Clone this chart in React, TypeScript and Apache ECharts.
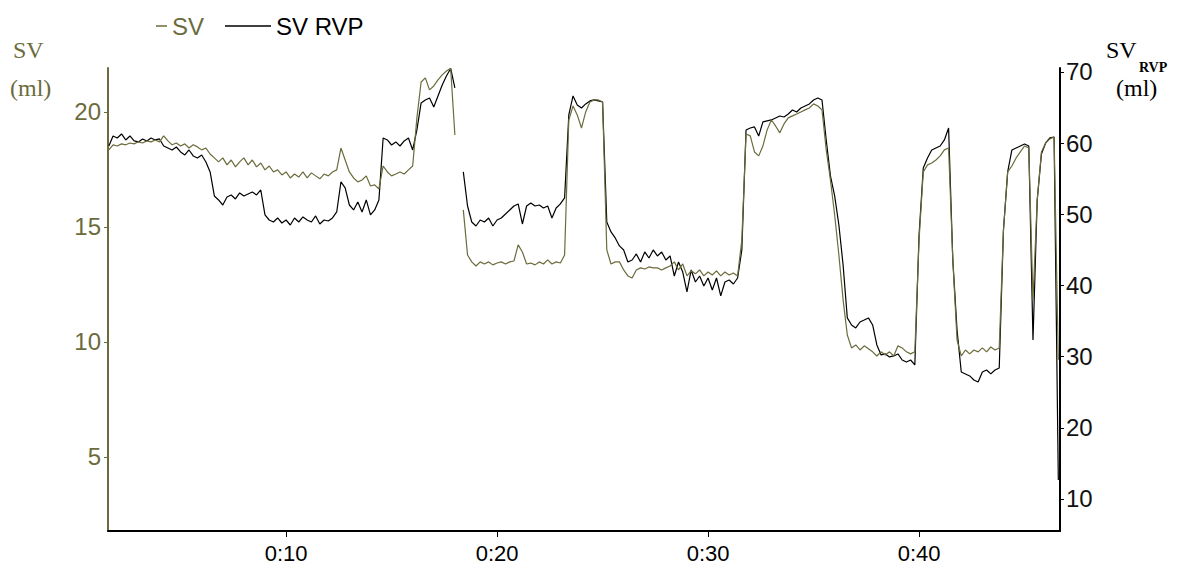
import React, { useEffect, useRef } from "react";
import * as echarts from "echarts";

// Sampling grid (seconds) of the recorded traces
const T_START = 1.6;
const T_STEP = 0.2;

// SV (ml) – left axis
const svValues: (number | null)[] = [
  18.35, 18.57, 18.52, 18.61, 18.57, 18.65, 18.61, 18.70, 18.65, 18.74,
  18.70, 18.78, 18.70, 18.96, 18.74, 18.57, 18.65, 18.52, 18.61, 18.43,
  18.57, 18.48, 18.35, 18.43, 18.17, 18.00, 17.83, 18.00, 17.70, 17.91,
  17.61, 17.83, 18.00, 17.70, 17.91, 17.61, 17.78, 17.48, 17.65, 17.39,
  17.48, 17.26, 17.39, 17.13, 17.30, 17.17, 17.39, 17.13, 17.35, 17.22,
  17.09, 17.30, 17.22, 17.39, 17.48, 18.43, 17.91, 17.39, 17.13, 16.96,
  17.04, 17.22, 16.78, 16.83, 16.65, 17.65, 17.39, 17.22, 17.30, 17.39,
  17.30, 17.48, 17.65, 19.74, 21.30, 21.48, 20.96, 21.13, 21.39, 21.61,
  21.78, 21.90, 19.00, null, 15.74, 13.78, 13.48, 13.30, 13.48, 13.39,
  13.48, 13.35, 13.43, 13.48, 13.39, 13.48, 13.52, 14.22, 13.91, 13.39,
  13.43, 13.35, 13.48, 13.39, 13.57, 13.39, 13.48, 13.43, 13.78, 19.65,
  20.26, 19.87, 19.30, 20.00, 20.43, 20.52, 20.52, 20.43, 14.00, 13.39,
  13.48, 13.48, 13.13, 12.87, 12.78, 13.13, 13.22, 13.17, 13.26, 13.22,
  13.22, 13.13, 13.22, 13.30, 13.48, 13.13, 13.39, 12.87, 13.09, 12.96,
  13.13, 12.87, 13.04, 12.91, 13.09, 12.87, 13.04, 12.91, 13.00, 12.87,
  14.43, 19.04, 18.96, 18.26, 18.09, 18.52, 19.22, 19.65, 19.39, 19.09,
  19.48, 19.74, 19.83, 19.91, 20.00, 20.09, 20.17, 20.35, 20.26, 20.09,
  18.35, 17.04, 15.52, 13.78, 11.83, 10.30, 9.74, 9.87, 9.65, 9.83,
  9.70, 9.57, 9.39, 9.57, 9.43, 9.57, 9.39, 9.83, 9.74, 9.57,
  9.48, 9.57, 14.43, 17.39, 17.70, 17.78, 17.91, 18.09, 18.35, 18.43,
  13.57, 10.09, 9.39, 9.65, 9.48, 9.65, 9.57, 9.74, 9.57, 9.78,
  9.65, 9.74, 14.87, 17.39, 17.65, 18.00, 18.26, 18.52, 18.43, 11.83,
  16.17, 18.26, 18.65, 18.83, 18.91, 9.22,
];

// SV RVP (ml) – right axis
const svRvpValues: (number | null)[] = [
  59.60, 61.01, 60.73, 61.29, 60.45, 61.01, 60.31, 60.17, 60.59, 60.31,
  60.73, 60.45, 60.59, 59.60, 59.32, 59.04, 59.46, 58.76, 58.34, 59.04,
  58.20, 57.92, 58.34, 57.36, 55.96, 52.58, 52.02, 51.31, 52.44, 52.72,
  52.16, 53.00, 52.58, 52.86, 53.14, 52.72, 53.42, 49.91, 49.20, 48.92,
  49.49, 48.78, 49.20, 48.50, 49.49, 48.92, 49.63, 49.20, 48.92, 49.77,
  48.64, 49.20, 49.06, 49.49, 50.33, 54.56, 53.72, 51.31, 50.61, 51.74,
  50.33, 52.02, 49.91, 50.61, 52.02, 60.73, 60.45, 59.74, 60.17, 59.60,
  60.31, 60.73, 59.04, 61.85, 65.65, 66.07, 66.35, 65.08, 66.63, 68.17,
  69.44, 70.50, 67.75, null, 55.96, 51.17, 48.92, 48.36, 49.20, 48.92,
  49.49, 48.36, 49.20, 49.49, 50.05, 50.61, 51.17, 51.46, 48.64, 51.17,
  51.60, 51.17, 51.31, 50.89, 51.17, 49.49, 50.89, 51.46, 52.30, 63.96,
  66.63, 65.37, 64.94, 65.51, 65.93, 66.07, 65.93, 65.79, 48.92, 47.52,
  46.68, 45.56, 44.99, 43.30, 43.58, 44.43, 43.30, 44.71, 43.86, 44.99,
  44.15, 44.71, 43.58, 44.15, 41.33, 43.30, 41.89, 39.09, 42.18, 40.49,
  41.33, 39.93, 41.05, 39.37, 41.05, 38.53, 40.49, 40.77, 40.21, 41.05,
  44.99, 61.85, 62.13, 62.28, 61.01, 62.98, 63.12, 63.26, 63.54, 63.82,
  63.68, 64.10, 64.66, 64.38, 64.94, 65.23, 65.51, 66.07, 66.35, 66.07,
  60.45, 55.40, 52.58, 48.50, 42.88, 35.44, 34.45, 34.03, 34.87, 35.15,
  35.44, 34.45, 31.64, 30.24, 30.38, 29.96, 30.10, 30.38, 29.53, 29.25,
  29.53, 28.83, 47.10, 56.52, 57.92, 59.04, 59.32, 59.60, 60.45, 62.13,
  43.58, 33.75, 27.85, 27.57, 27.29, 26.72, 26.44, 27.85, 28.13, 27.57,
  28.13, 28.41, 47.80, 55.96, 59.04, 59.32, 59.60, 59.88, 59.60, 32.34,
  52.02, 58.48, 60.03, 60.73, 60.87, 12.67,
];

const xTickValues = [10, 20, 30, 40];
const xTickLabels = ["0:10", "0:20", "0:30", "0:40"];
const leftTickValues = [5, 10, 15, 20];
const rightTickValues = [10, 20, 30, 40, 50, 60, 70];

const OLIVE = "#6b6b3c";
const SANS = '"Liberation Sans", Arial, sans-serif';
const SERIF = '"Liberation Serif", "Times New Roman", serif';

function toPairs(vals: (number | null)[]) {
  return vals.map((v, i) => [
    +(T_START + i * T_STEP).toFixed(2),
    v === null ? "-" : v,
  ]);
}

export default function App() {
  const ref = useRef<HTMLDivElement>(null);

  useEffect(() => {
    document.body.style.margin = "0";
    if (!ref.current) return;
    const chart = echarts.init(ref.current, null, { renderer: "svg" });
    chart.setOption({
      animation: false,
      backgroundColor: "#ffffff",
      grid: { left: 108, right: 129, top: 68, bottom: 39 },
      legend: [
        {
          data: ["SV"],
          left: 151,
          top: 9,
          icon: "rect",
          itemWidth: 11,
          itemHeight: 1.5,
          textStyle: { color: OLIVE, fontSize: 24, fontFamily: SANS },
        },
        {
          data: ["SV RVP"],
          left: 220,
          top: 9,
          icon: "rect",
          itemWidth: 46,
          itemHeight: 1.5,
          textStyle: { color: "#000", fontSize: 24, fontFamily: SANS },
        },
      ],
      xAxis: {
        type: "value",
        min: 1.56,
        max: 46.68,
        splitLine: { show: false },
        axisLine: { show: true, lineStyle: { color: "#000", width: 2 } },
        axisTick: {
          show: true,
          customValues: xTickValues,
          length: 6,
          lineStyle: { color: "#000" },
        },
        axisLabel: {
          customValues: xTickValues,
          formatter: (v: number) => xTickLabels[xTickValues.indexOf(Math.round(v))] ?? "",
          color: "#000",
          fontSize: 22,
          fontFamily: SANS,
          margin: 11,
        },
      },
      yAxis: [
        {
          type: "value",
          position: "left",
          min: 1.78,
          max: 21.91,
          splitLine: { show: false },
          axisLine: { show: true, lineStyle: { color: OLIVE, width: 2 } },
          axisTick: {
            show: true,
            customValues: leftTickValues,
            length: 4,
            lineStyle: { color: OLIVE },
          },
          axisLabel: {
            customValues: leftTickValues,
            color: OLIVE,
            fontSize: 24,
            fontFamily: SANS,
            margin: 7,
          },
        },
        {
          type: "value",
          position: "right",
          min: 5.5,
          max: 70.56,
          splitLine: { show: false },
          axisLine: { show: true, lineStyle: { color: "#000", width: 2 } },
          axisTick: {
            show: true,
            customValues: rightTickValues,
            length: 4,
            lineStyle: { color: "#000" },
          },
          axisLabel: {
            customValues: rightTickValues,
            color: "#111",
            fontSize: 24,
            fontFamily: SANS,
            margin: 6,
          },
        },
      ],
      graphic: [
        { type: "text", left: 13, top: 38, style: { text: "SV", fill: OLIVE, fontSize: 24, fontFamily: SERIF } },
        { type: "text", left: 10, top: 76, style: { text: "(ml)", fill: OLIVE, fontSize: 24, fontFamily: SERIF } },
        { type: "text", left: 1106, top: 38, style: { text: "SV", fill: "#000", fontSize: 24, fontFamily: SERIF } },
        { type: "text", left: 1139, top: 60, style: { text: "RVP", fill: "#000", fontSize: 14, fontFamily: SERIF, fontWeight: "bold" } },
        { type: "text", left: 1116, top: 76, style: { text: "(ml)", fill: "#000", fontSize: 24, fontFamily: SERIF } },
      ],
      series: [
        {
          name: "SV RVP",
          type: "line",
          yAxisIndex: 1,
          showSymbol: false,
          symbol: "none",
          connectNulls: false,
          color: "#000",
          lineStyle: { color: "#000", width: 1.2 },
          data: toPairs(svRvpValues),
        },
        {
          name: "SV",
          type: "line",
          yAxisIndex: 0,
          showSymbol: false,
          symbol: "none",
          connectNulls: false,
          color: OLIVE,
          lineStyle: { color: OLIVE, width: 1.2 },
          data: toPairs(svValues),
        },
      ],
    });
    return () => chart.dispose();
  }, []);

  return <div ref={ref} style={{ width: 1189, height: 570 }} />;
}
